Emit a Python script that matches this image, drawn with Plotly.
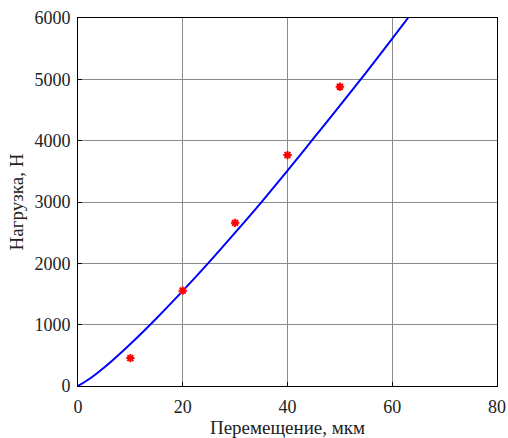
import plotly.graph_objects as go

# Fitted curve
curve_x = [0, 2.5, 5, 10, 15, 20, 25, 30, 35, 40, 45, 50, 55, 60, 63, 65]
curve_y = [0, 135, 300, 685, 1105, 1550, 2015, 2500, 2995, 3510, 4040, 4570, 5110, 5665, 6000, 6230]

# Experimental points
exp_x = [10, 20, 30, 40, 50]
exp_y = [455, 1555, 2660, 3765, 4880]

x_ticks = [0, 20, 40, 60, 80]
y_ticks = [0, 1000, 2000, 3000, 4000, 5000, 6000]

font_family = "Times New Roman, Liberation Serif, serif"

fig = go.Figure()
fig.add_trace(go.Scatter(x=curve_x, y=curve_y, mode="lines",
                         line=dict(color="#0000ff", width=2), line_shape="spline",
                         showlegend=False, cliponaxis=True))
fig.add_trace(go.Scatter(x=exp_x, y=exp_y, mode="markers",
                         marker=dict(symbol="asterisk", size=7,
                                     line=dict(color="#ff0000", width=2), color="#ff0000"),
                         showlegend=False))

axis_common = dict(showline=True, linecolor="black", linewidth=1, mirror=True,
                   showgrid=True, gridcolor="#8a8a8a", gridwidth=1,
                   ticks="inside", ticklen=4, tickcolor="black", zeroline=False,
                   automargin=False,
                   tickfont=dict(family=font_family, size=18, color="#222"))

fig.update_xaxes(range=[0, 80], tickvals=x_ticks, ticktext=[str(v) for v in x_ticks],
                 title=dict(text="Перемещение, мкм", font=dict(family=font_family, size=19, color="#222"),
                            standoff=7),
                 ticklabelstandoff=4, **axis_common)
fig.update_yaxes(range=[0, 6000], tickvals=y_ticks, ticktext=[str(v) for v in y_ticks],
                 title=dict(text="Нагрузка, Н", font=dict(family=font_family, size=19, color="#222"),
                            standoff=5),
                 ticklabelstandoff=3, **axis_common)

fig.update_layout(width=508, height=438,
                  margin=dict(l=78, r=11, t=18, b=52),
                  plot_bgcolor="white", paper_bgcolor="white",
                  font=dict(family=font_family))

fig.write_html("out.html", config={"displayModeBar": False},
               post_script="document.body.style.margin='0';document.body.style.overflow='hidden';")
